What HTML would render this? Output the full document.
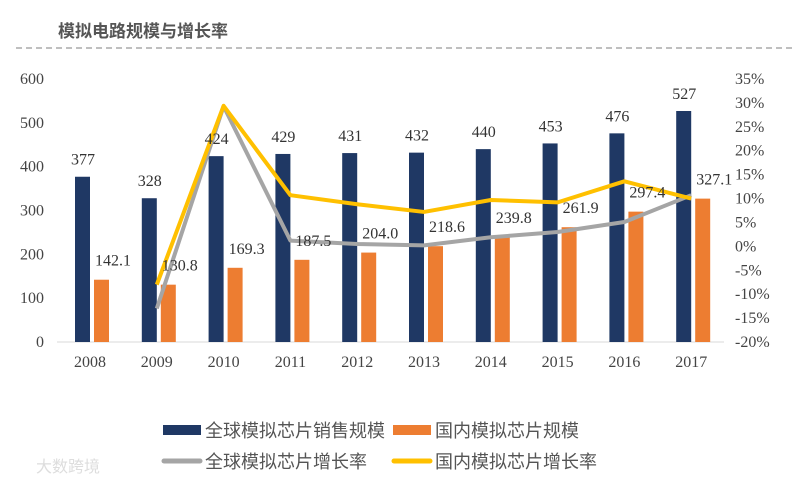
<!DOCTYPE html>
<html><head><meta charset="utf-8"><style>
body{margin:0;background:#fff;width:796px;height:482px;overflow:hidden;font-family:"Liberation Serif","Noto Serif CJK SC",serif}
</style></head><body>
<svg width="796" height="482">
<text x="58" y="37" font-family="Liberation Sans, Noto Sans CJK SC, sans-serif" font-weight="bold" font-size="17" fill="#555">模拟电路规模与增长率</text>
<line x1="16" y1="48" x2="796" y2="48" stroke="#aaa" stroke-width="1.5" stroke-dasharray="6,4"/>
<g id="g"></g>
<g font-family="Liberation Sans, Noto Sans CJK SC, sans-serif" font-size="18" fill="#555">
<rect x="163" y="425" width="38" height="10" fill="#1f3864"/>
<text x="205" y="437">全球模拟芯片销售规模</text>
<rect x="393" y="425" width="38" height="10" fill="#ed7d31"/>
<text x="435" y="437">国内模拟芯片规模</text>
<line x1="164" y1="461" x2="200" y2="461" stroke="#a5a5a5" stroke-width="5" stroke-linecap="round"/>
<text x="205" y="468">全球模拟芯片增长率</text>
<line x1="394" y1="461" x2="430" y2="461" stroke="#ffc000" stroke-width="5" stroke-linecap="round"/>
<text x="435" y="468">国内模拟芯片增长率</text>
<text x="36" y="472" font-size="16" fill="#ddd">大数跨境</text>
</g>
</svg>
<script>
const years=["2008","2009","2010","2011","2012","2013","2014","2015","2016","2017"];
const globalSales=[377,328,424,429,431,432,440,453,476,527];
const domesticSize=[142.1,130.8,169.3,187.5,204.0,218.6,239.8,261.9,297.4,327.1];
const globalGrowth=[null,-13.0,29.3,1.2,0.5,0.2,1.9,3.0,5.1,10.7];
const domesticGrowth=[null,-8.0,29.4,10.7,8.8,7.2,9.7,9.2,13.6,10.0];
const leftTicks=[0,100,200,300,400,500,600];
const rightTicks=[-20,-15,-10,-5,0,5,10,15,20,25,30,35];
const NS="http://www.w3.org/2000/svg";
const g=document.getElementById('g');
const yL=v=>342-v*(263/600);
const yR=v=>342-(v+20)*(263/55);
const xC=i=>90+i*66.8;
function el(t,a,txt){const e=document.createElementNS(NS,t);for(const k in a)e.setAttribute(k,a[k]);if(txt!=null)e.textContent=txt;g.appendChild(e);return e;}
let ax=el('line',{x1:57,y1:342,x2:724,y2:342,stroke:'#d9d9d9','stroke-width':1});


leftTicks.forEach(v=>{const t=el('text',{x:44,y:yL(v)+5,'text-anchor':'end','font-size':16,fill:'#444'},String(v));

});
rightTicks.forEach(v=>{const t=el('text',{x:735,y:yR(v)+5,'font-size':16,fill:'#444'},v+'%');

});
years.forEach((y,i)=>{
const t=el('text',{x:xC(i),y:367,'text-anchor':'middle','font-size':16,fill:'#444'},y);


const b=el('rect',{x:xC(i)-15,y:yL(globalSales[i]),width:15,height:342-yL(globalSales[i]),fill:'#1f3864'});


const o=el('rect',{x:xC(i)+4,y:yL(domesticSize[i]),width:15,height:342-yL(domesticSize[i]),fill:'#ed7d31'});


});
function line(arr,color,name){
const pts=[];arr.forEach((v,i)=>{if(v!=null)pts.push(xC(i)+','+yR(v));});
const p=el('polyline',{points:pts.join(' '),fill:'none',stroke:color,'stroke-width':4,'stroke-linejoin':'round'});


}
line(globalGrowth,'#a5a5a5','line-global-growth');
line(domesticGrowth,'#ffc000','line-domestic-growth');
years.forEach((y,i)=>{
const a=el('text',{x:xC(i)-7,y:yL(globalSales[i])-12,'text-anchor':'middle','font-size':16,fill:'#333'},String(globalSales[i]));


const b=el('text',{x:xC(i)+23,y:yL(domesticSize[i])-14,'text-anchor':'middle','font-size':16,fill:'#333'},domesticSize[i].toFixed(1));


});
</script>
</body></html>
